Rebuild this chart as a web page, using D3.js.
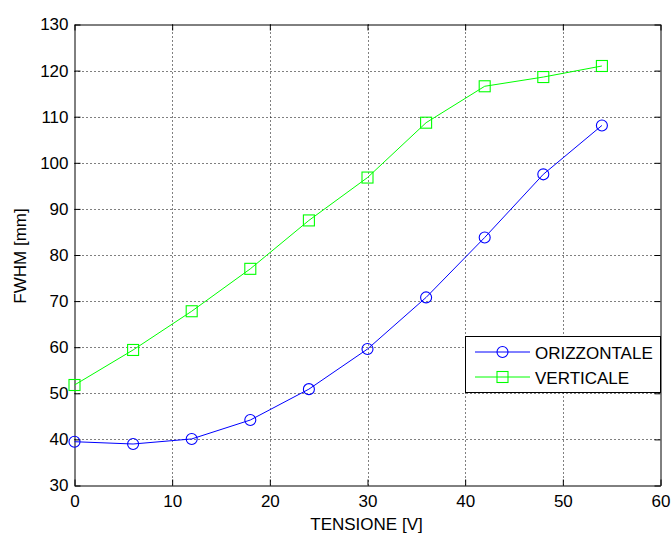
<!DOCTYPE html>
<html>
<head>
<meta charset="utf-8">
<script src="https://cdn.jsdelivr.net/npm/d3@7"></script>
<style>
  html, body { margin: 0; padding: 0; background: #fff; }
  svg text { font-family: "Liberation Sans", Arial, Helvetica, sans-serif; fill: #000; }
</style>
</head>
<body>
<svg id="chart" width="672" height="538"></svg>
<script>
// Measured FWHM versus applied voltage
const tensione = [0, 6, 12, 18, 24, 30, 36, 42, 48, 54];
const orizzontale = [39.5, 39.0, 40.1, 44.2, 50.9, 59.6, 70.8, 83.8, 97.5, 108.1];
const verticale = [51.8, 59.4, 67.8, 77.0, 87.5, 96.8, 108.7, 116.6, 118.6, 121.0];
const xTicks = [0, 10, 20, 30, 40, 50, 60];
const yTicks = [30, 40, 50, 60, 70, 80, 90, 100, 110, 120, 130];
const seriesNames = ["ORIZZONTALE", "VERTICALE"];

const svg = d3.select("#chart");
const plotLeft = 74.5, plotRight = 660.5, plotTop = 24.5, plotBottom = 485.5;

const x = d3.scaleLinear().domain([0, 60]).range([plotLeft, plotRight]);
const y = d3.scaleLinear().domain([30, 130]).range([plotBottom, plotTop]);

svg.append("rect").attr("width", 672).attr("height", 538).attr("fill", "#fff");

// dotted grid
const grid = svg.append("g").attr("stroke", "#000").attr("stroke-width", 1)
  .attr("stroke-dasharray", "1,3");
grid.selectAll(".gx").data(xTicks.slice(1, -1)).join("line")
  .attr("x1", d => Math.round(x(d)) + 0.5).attr("x2", d => Math.round(x(d)) + 0.5)
  .attr("y1", plotTop).attr("y2", plotBottom);
grid.selectAll(".gy").data(yTicks.slice(1, -1)).join("line")
  .attr("y1", d => Math.round(y(d)) + 0.5).attr("y2", d => Math.round(y(d)) + 0.5)
  .attr("x1", plotLeft).attr("x2", plotRight);

// axes with inward ticks on all four sides
const fs = "17px";
const ax = d3.axisBottom(x).tickValues(xTicks).tickSizeInner(-6).tickSizeOuter(0).tickPadding(9);
const ay = d3.axisLeft(y).tickValues(yTicks).tickSizeInner(-6).tickSizeOuter(0).tickPadding(6);
const gx = svg.append("g").attr("transform", `translate(0,${plotBottom})`).call(ax);
const gy = svg.append("g").attr("transform", `translate(${plotLeft},0)`).call(ay);
const gxt = svg.append("g").attr("transform", `translate(0,${plotTop})`)
  .call(d3.axisTop(x).tickValues(xTicks).tickSizeInner(-6).tickSizeOuter(0).tickFormat(""));
const gyr = svg.append("g").attr("transform", `translate(${plotRight},0)`)
  .call(d3.axisRight(y).tickValues(yTicks).tickSizeInner(-6).tickSizeOuter(0).tickFormat(""));
[gx, gy, gxt, gyr].forEach(g => {
  g.select(".domain").attr("stroke", "#000");
  g.selectAll(".tick line").attr("stroke", "#000");
  g.selectAll("text").style("font-size", fs).attr("font-family", null);
});

// axis titles
svg.append("text").attr("x", (plotLeft + plotRight) / 2 - 1).attr("y", 530)
  .attr("text-anchor", "middle").style("font-size", fs).text("TENSIONE [V]");
svg.append("text").attr("transform", `translate(26,${(plotTop + plotBottom) / 2 + 1}) rotate(-90)`)
  .attr("text-anchor", "middle").style("font-size", fs).text("FWHM [mm]");

// series
const series = [
  { name: seriesNames[0], values: orizzontale, color: "#0000ff", marker: "circle" },
  { name: seriesNames[1], values: verticale, color: "#00ff00", marker: "square" }
];
const line = d3.line().x(d => x(d[0])).y(d => y(d[1]));

function drawMarker(g, cx, cy, type, color) {
  if (type === "circle") {
    g.append("circle").attr("cx", cx).attr("cy", cy).attr("r", 5.5)
      .attr("fill", "none").attr("stroke", color).attr("stroke-width", 1.1);
  } else {
    g.append("rect").attr("x", cx - 5.5).attr("y", cy - 5.5)
      .attr("width", 11).attr("height", 11)
      .attr("fill", "none").attr("stroke", color).attr("stroke-width", 1.1);
  }
}

series.forEach(s => {
  const pts = tensione.map((t, i) => [t, s.values[i]]);
  const g = svg.append("g");
  g.append("path").datum(pts).attr("d", line)
    .attr("fill", "none").attr("stroke", s.color).attr("stroke-width", 1);
  pts.forEach(p => drawMarker(g, x(p[0]), y(p[1]), s.marker, s.color));
});

// legend
const lg = svg.append("g");
lg.append("rect").attr("x", 465.5).attr("y", 336.5).attr("width", plotRight - 465.5).attr("height", 56)
  .attr("fill", "#fff").attr("stroke", "#000").attr("stroke-width", 1);
series.forEach((s, i) => {
  const cy = 352 + i * 25;
  lg.append("line").attr("x1", 475).attr("x2", 530).attr("y1", cy).attr("y2", cy)
    .attr("stroke", s.color).attr("stroke-width", 1);
  drawMarker(lg, 502.5, cy, s.marker, s.color);
  lg.append("text").attr("x", 535).attr("y", cy + 6.5).style("font-size", fs).text(s.name);
});
</script>
</body>
</html>
